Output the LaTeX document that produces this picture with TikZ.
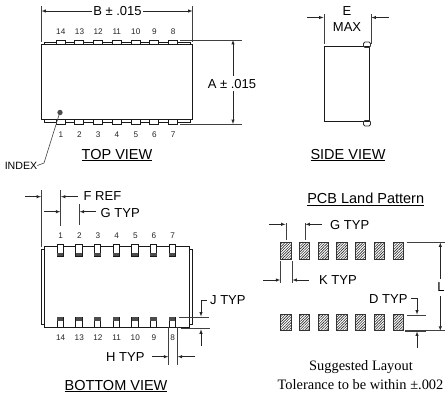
\documentclass[tikz,border=0pt]{standalone}
\usepackage{fontspec}
\setmainfont{Liberation Serif}
\setsansfont{Liberation Sans}
\usetikzlibrary{arrows,patterns.meta}
\tikzset{
	dim/.style={line width=0.55bp,draw=black!85,-latex},
	extline/.style={line width=0.6bp,draw=black!75},
	outline/.style={line width=0.85bp,draw=black!90},
	lbl/.style={font=\sffamily\fontsize{13bp}{14bp}\selectfont,inner sep=0pt},
	viewtitle/.style={font=\sffamily\fontsize{14.5bp}{15bp}\selectfont,inner sep=0pt},
	pinnum/.style={font=\sffamily\fontsize{8.2bp}{9bp}\selectfont,inner sep=0pt,text=black!85},
	smalllbl/.style={font=\sffamily\fontsize{10.6bp}{11bp}\selectfont,inner sep=0pt},
	serif/.style={font=\rmfamily\fontsize{14.4bp}{15bp}\selectfont,inner sep=0pt},
	land/.style={line width=0.55bp,draw=black!80,pattern={Lines[angle=45,distance=1.9bp,line width=0.6bp]},pattern color=black!85},
}
\begin{document}
\begin{tikzpicture}[x=1bp,y=-1bp]
	\useasboundingbox (0,0) rectangle (445,396);

	\draw[outline] (41.5,44.5) rectangle (192.5,119);
	\draw[outline] (44.5,44.5) -- (44.5,42) -- (190,42) -- (190,44.5);
	\draw[outline] (44.5,119) -- (44.5,122) -- (190,122) -- (190,119);
	\foreach \px/\top/\bot in {56/14/1,74.7/13/2,93.3/12/3,112/11/4,131/10/5,149.7/9/6,168.3/8/7}{
		\draw[outline,fill=white] (\px,40) rectangle (\px+9,44.5);
		\draw[outline,fill=white] (\px,119) rectangle (\px+9,124);
		\node[pinnum] (topn\top) at (\px+4.8,32) {\top};
		\node[pinnum] (topn\bot) at (\px+4.8,135) {\bot};
	}
	\fill[black!70] (60,112.5) circle (2.7);
	\draw[extline] (180,40) -- (242,40);
	\draw[extline] (180,124) -- (242,124);
	\draw[extline] (41.5,6) -- (41.5,42);
	\draw[extline] (192.5,6) -- (192.5,42);
	\node[lbl] (dimB) at (117.5,11) {B ± .015};
	\draw[dim] (dimB.west) ++(-1,0) -- (41.5,11);
	\draw[dim] (dimB.east) ++(1,0) -- (192.5,11);
	\node[lbl] (dimA) at (232,84) {A ± .015};
	\draw[dim] (233,76) -- (233,40);
	\draw[dim] (233,91) -- (233,124);
	\node[smalllbl] (index) at (21,165.5) {INDEX};
	\draw[extline] (index.east) -- (44,163) -- (59,115);
	\node[viewtitle] (topview) at (117,155) {\underline{TOP VIEW}};

	\draw[outline] (324,46.3) rectangle (369.3,121);
	\draw[line width=0.9bp,draw=black!80,rounded corners=1.5bp] (363.5,42) rectangle (370.5,47.5);
	\draw[line width=0.9bp,draw=black!80,rounded corners=1.5bp] (363.5,120.5) rectangle (370.5,126);
	\draw[extline] (324,14) -- (324,44);
	\draw[extline] (371,14) -- (371,44);
	\coordinate (eleft) at (307,17.5);
	\coordinate (eright) at (389,17.5);
	\draw[dim] (eleft) -- (323.5,17.5);
	\draw[dim] (eright) -- (371.5,17.5);
	\node[lbl] (dimE) at (347,11) {E};
	\node[lbl] (dimMax) at (347,27) {MAX};
	\node[viewtitle] (sideview) at (348,155) {\underline{SIDE VIEW}};

	\draw[outline] (44.3,246.3) rectangle (189.3,327.3);
	\draw[outline] (44.3,249) -- (41.3,249) -- (41.3,324.3) -- (44.3,324.3);
	\draw[outline] (189.3,249) -- (192.3,249) -- (192.3,324.3) -- (189.3,324.3);
	\foreach \px/\top/\bot in {57/1/14,75.7/2/13,94.3/3/12,113/4/11,131.7/5/10,150.4/6/9,169/7/8}{
		\draw[outline,fill=white] (\px,244.3) rectangle (\px+6.4,256.3);
		\fill[black!70] (\px,253) rectangle (\px+6.4,256.3);
		\draw[outline,fill=white] (\px,317) rectangle (\px+6.4,327.3);
		\fill[black!70] (\px,317) rectangle (\px+6.4,320.5);
		\node[pinnum] (botn\top) at (\px+3.6,235.7) {\top};
		\node[pinnum] (botn\bot) at (\px+3.6,337.7) {\bot};
	}
	\draw[extline] (41.3,190) -- (41.3,247);
	\draw[extline] (60.7,190) -- (60.7,226);
	\draw[extline] (79.3,204) -- (79.3,225);
	\node[lbl,anchor=west] (dimF) at (83.5,196.5) {F REF};
	\node[lbl,anchor=west] (dimG) at (100.5,213) {G TYP};
	\draw[dim] (25,196.7) -- (41,196.7);
	\draw[dim] (78,196.7) -- (61,196.7);
	\draw[dim] (44,211.7) -- (60.3,211.7);
	\draw[dim] (96,211.7) -- (79.7,211.7);
	\node[lbl,anchor=west] (dimJ) at (210,300) {J TYP};
	\draw[dim] (207,300) -- (201,300) -- (201,316.5);
	\draw[dim] (201,345.7) -- (201,329.3);
	\draw[extline] (179,317) -- (209,317);
	\draw[extline] (181,328.7) -- (210,328.7);
	\node[lbl,anchor=west] (dimH) at (106,357.5) {H TYP};
	\draw[extline] (168.7,327) -- (168.7,365);
	\draw[extline] (177.3,327) -- (177.3,365);
	\draw[dim] (152,356.7) -- (168.3,356.7);
	\draw[dim] (195,356.7) -- (177.7,356.7);
	\node[viewtitle] (bottomview) at (116,386) {\underline{BOTTOM VIEW}};

	\node[viewtitle] (pcbtitle) at (365.7,199.5) {\underline{PCB Land Pattern}};
	\foreach \px in {280.7,299.4,318,336.7,355.4,374,393}{
		\draw[land] (\px,242.3) rectangle (\px+10.3,259);
		\draw[land] (\px,314.3) rectangle (\px+10.3,330.7);
	}
	\draw[extline] (286,223) -- (286,240);
	\draw[extline] (305,223) -- (305,240);
	\draw[dim] (269,224.3) -- (285.5,224.3);
	\draw[dim] (322,224.3) -- (305.5,224.3);
	\node[lbl,anchor=west] (landG) at (330,225.5) {G TYP};
	\draw[extline] (280.7,261) -- (280.7,282.7);
	\draw[extline] (292,261) -- (292,282.7);
	\draw[dim] (263,280) -- (280.3,280);
	\draw[dim] (309,280) -- (292.5,280);
	\node[lbl,anchor=west] (landK) at (319,280.5) {K TYP};
	\draw[extline] (406.7,242.5) -- (445,242.5);
	\draw[extline] (405,330.7) -- (445,330.7);
	\node[lbl] (landL) at (441,287.5) {L};
	\draw[dim] (440.3,279) -- (440.3,242.5);
	\draw[dim] (440.3,296) -- (440.3,330.7);
	\node[lbl,anchor=west] (landD) at (369,299.5) {D TYP};
	\draw[dim] (411,298) -- (417,298) -- (417,314.5);
	\draw[dim] (417,347.7) -- (417,331.5);
	\draw[extline] (407,315) -- (426,315);
	\draw[extline] (405,331) -- (426,331);
	\node[serif] (note1) at (361,367) {Suggested Layout};
	\node[serif] (note2) at (360.5,385) {Tolerance to be within ±.002};
\end{tikzpicture}
\end{document}
